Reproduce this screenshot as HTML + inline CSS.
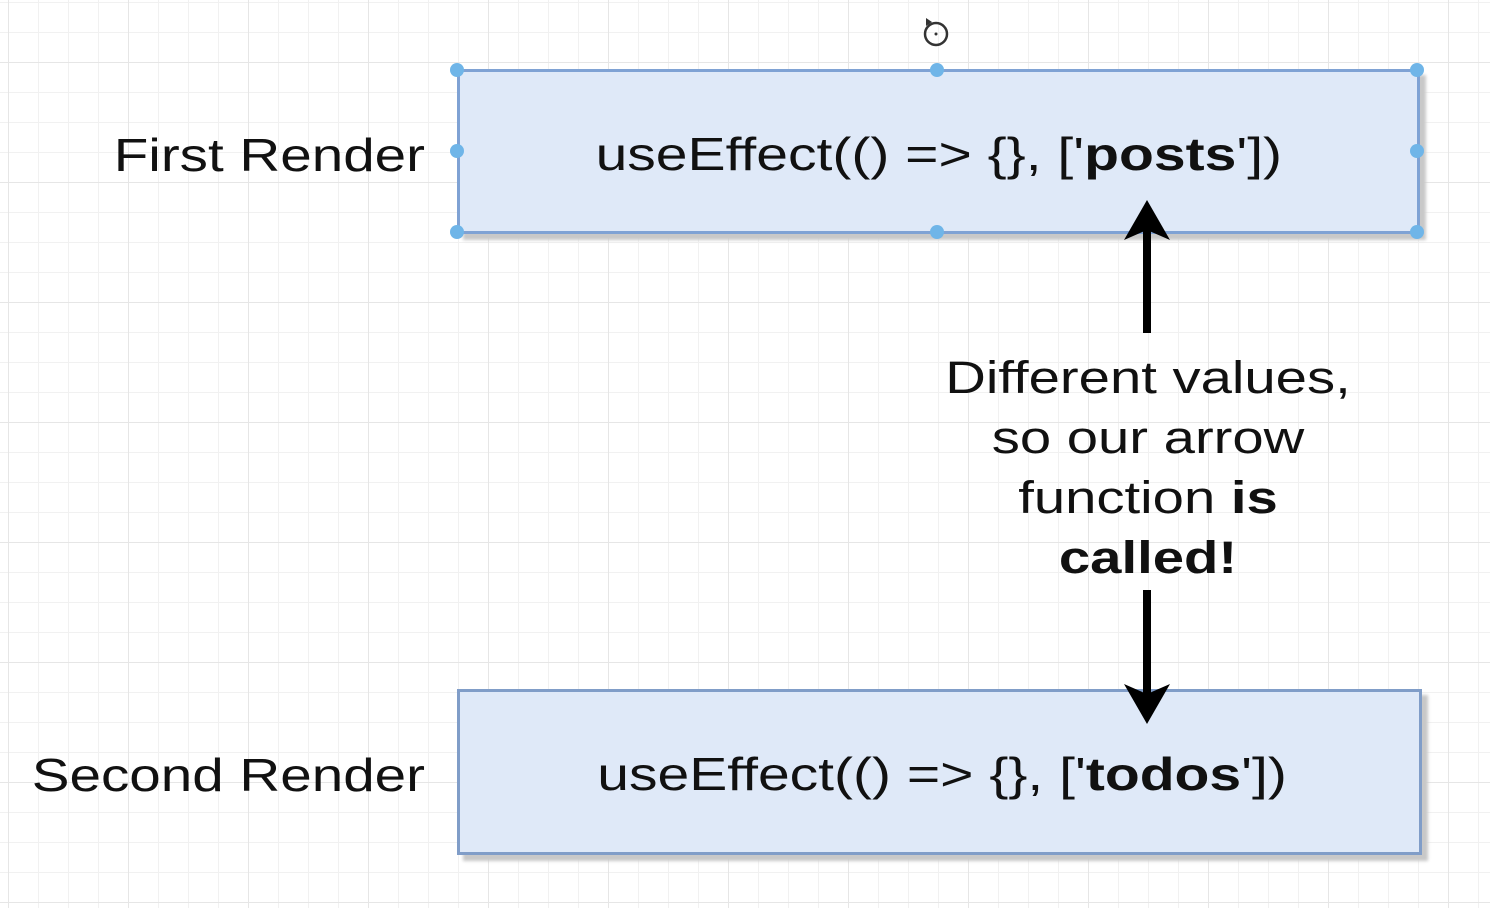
<!DOCTYPE html>
<html><head><style>
body{margin:0;width:1490px;height:908px;overflow:hidden;background:#fff;font-family:"Liberation Sans",Arial,sans-serif;}
.grid{position:absolute;left:0;top:0;width:1490px;height:908px;
background-image:
linear-gradient(to right,#e6e6e6 1px,transparent 1px),
linear-gradient(to bottom,#e6e6e6 1px,transparent 1px),
linear-gradient(to right,#f1f1f1 1px,transparent 1px),
linear-gradient(to bottom,#f1f1f1 1px,transparent 1px);
background-size:120px 120px,120px 120px,30px 30px,30px 30px;
background-position:8px 0,0 62px,8px 0,0 2px;}
.box{position:absolute;background:#dfe9f8;border:3px solid #809dc8;box-shadow:6px 6px 3px #c8c8c8;box-sizing:border-box;display:flex;align-items:center;justify-content:center;font-size:46px;color:#111;}
.box span{display:inline-block;transform:scaleX(1.24);white-space:nowrap;}
.lbl{position:absolute;font-size:46px;color:#111;text-align:right;width:420px;transform:scaleX(1.23);transform-origin:right center;white-space:nowrap;}
.h{position:absolute;width:14px;height:14px;border-radius:50%;background:#6fb5e8;}
.t{position:absolute;left:900px;width:496px;text-align:center;font-size:45px;line-height:60px;color:#111;top:348px;transform:scaleX(1.25);}
</style></head><body>
<div class="grid"></div>
<div class="lbl" style="left:5px;top:128px">First Render</div>
<div class="lbl" style="left:5px;top:748px">Second Render</div>
<div class="box" style="left:457px;top:69px;width:963px;height:165px;border-color:#7fa2d4;"><span style="margin-left:0px;margin-top:4px">useEffect(() =&gt; {}, ['<b>posts</b>'])</span></div>
<div class="box" style="left:457px;top:689px;width:965px;height:166px;"><span style="margin-left:6px;margin-top:4px">useEffect(() =&gt; {}, ['<b>todos</b>'])</span></div>
<div class="h" style="left:450px;top:63px"></div><div class="h" style="left:930px;top:63px"></div><div class="h" style="left:1410px;top:63px"></div>
<div class="h" style="left:450px;top:144px"></div><div class="h" style="left:1410px;top:144px"></div>
<div class="h" style="left:450px;top:225px"></div><div class="h" style="left:930px;top:225px"></div><div class="h" style="left:1410px;top:225px"></div>
<svg style="position:absolute;left:0;top:0" width="1490" height="908">
<circle cx="936" cy="34" r="11" fill="none" stroke="#333" stroke-width="2.5"/>
<circle cx="936" cy="34" r="1.5" fill="#333"/>
<path d="M926 18 l6 4 -6 4z" fill="#333"/>
<line x1="1147" y1="333" x2="1147" y2="225" stroke="#000" stroke-width="8"/>
<path d="M1147 200 L1170 240 L1147 230 L1124 240Z" fill="#000"/>
<line x1="1147" y1="590" x2="1147" y2="700" stroke="#000" stroke-width="8"/>
<path d="M1147 724 L1170 684 L1147 694 L1124 684Z" fill="#000"/>
</svg>
<div class="t">Different values,<br>so our arrow<br>function <b>is</b><br><b>called!</b></div>
</body></html>
